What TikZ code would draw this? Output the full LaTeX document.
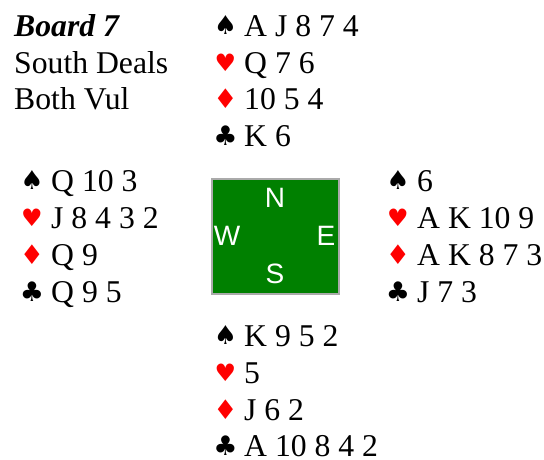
\documentclass[tikz,border=0pt]{standalone}
\usepackage{fontspec}
\setmainfont{Liberation Serif}
\setsansfont{Liberation Sans}
\newfontfamily\suitfont{DejaVu Sans}
\definecolor{tablegreen}{RGB}{0,128,0}
\definecolor{tablegray}{RGB}{170,170,170}
\tikzset{
	holding/.style={anchor=base west, inner sep=0pt, font=\fontsize{31.7}{32}\selectfont},
	spade/.style={anchor=base, inner sep=0pt, font=\suitfont\fontsize{26}{26}\selectfont},
	heart/.style={anchor=base, inner sep=0pt, red, font=\suitfont\fontsize{24}{24}\selectfont},
	diam/.style={anchor=base, inner sep=0pt, red, font=\suitfont\fontsize{27}{27}\selectfont},
	club/.style={anchor=base, inner sep=0pt, font=\suitfont\fontsize{27}{27}\selectfont},
	compass/.style={inner sep=0pt, text=white, font=\sffamily\fontsize{28}{28}\selectfont}
}
\begin{document}
\begin{tikzpicture}[x=1pt,y=-1pt]
	\useasboundingbox (0,0) rectangle (544,459);
	% Heading
	\node[holding] (title) at (14,36) {\textbf{\textit{Board 7}}};
	\node[holding] (dealer) at (14,73) {South Deals};
	\node[holding] (vul) at (14,109) {Both Vul};
	% North
	\node[spade] (ns) at (225.5,34) {♠};
	\node[heart] (nh) at (225.5,71) {♥};
	\node[diam] (nd) at (225.5,108) {♦};
	\node[club] (nc) at (225.5,145) {♣};
	\node[holding] (nsc) at (244,36) {A J 8 7 4};
	\node[holding] (nhc) at (244,73) {Q 7 6};
	\node[holding] (ndc) at (244,109) {10 5 4};
	\node[holding] (ncc) at (244,146) {K 6};
	% West
	\node[spade] (ws) at (32,189) {♠};
	\node[heart] (wh) at (32,226) {♥};
	\node[diam] (wd) at (32,264) {♦};
	\node[club] (wc) at (32,301) {♣};
	\node[holding] (wsc) at (51,191) {Q 10 3};
	\node[holding] (whc) at (51,228) {J 8 4 3 2};
	\node[holding] (wdc) at (51,265) {Q 9};
	\node[holding] (wcc) at (51,302) {Q 9 5};
	% East
	\node[spade] (es) at (398,189) {♠};
	\node[heart] (eh) at (398,226) {♥};
	\node[diam] (ed) at (398,264) {♦};
	\node[club] (ec) at (398,301) {♣};
	\node[holding] (esc) at (417,191) {6};
	\node[holding] (ehc) at (417,228) {A K 10 9};
	\node[holding] (edc) at (417,265) {A K 8 7 3};
	\node[holding] (ecc) at (417,302) {J 7 3};
	% South
	\node[spade] (ss) at (225.5,344) {♠};
	\node[heart] (sh) at (225.5,381) {♥};
	\node[diam] (sd) at (225.5,419) {♦};
	\node[club] (sc) at (225.5,455) {♣};
	\node[holding] (ssc) at (244,346) {K 9 5 2};
	\node[holding] (shc) at (244,383) {5};
	\node[holding] (sdc) at (244,420) {J 6 2};
	\node[holding] (scc) at (244,456) {A 10 8 4 2};
	% Table
	\draw[tablegray, fill=tablegreen, line width=2pt] (211.5,178.5) rectangle (339,294);
	\node[compass] (north) at (275,198) {N};
	\node[compass] (west) at (227,236) {W};
	\node[compass] (east) at (326,236) {E};
	\node[compass] (south) at (275,274) {S};
\end{tikzpicture}
\end{document}
